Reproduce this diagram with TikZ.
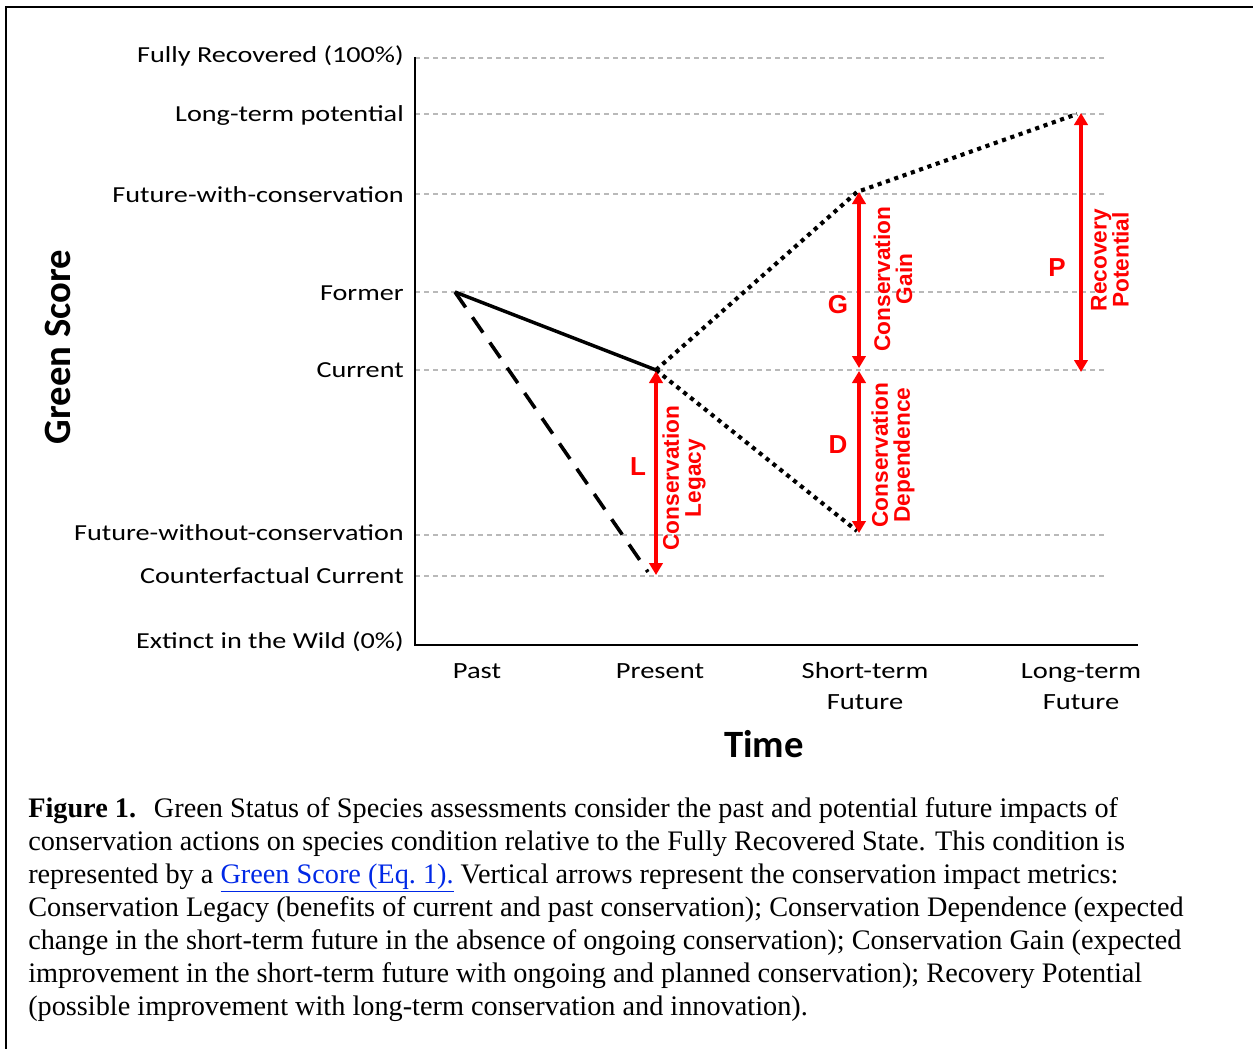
\documentclass[tikz,border=0pt]{standalone}
\usepackage{fontspec}
\usepackage{tikz}
\usetikzlibrary{positioning,arrows.meta,calc}
\newfontfamily\lblfont[FakeStretch=1.23]{Carlito}
\newfontfamily\ttlfont{Carlito}
\newfontfamily\redfont{Liberation Sans}
\newfontfamily\capfont{Liberation Serif}
\definecolor{myred}{RGB}{255,0,0}
\definecolor{mygrey}{RGB}{185,185,185}
\definecolor{mylink}{RGB}{0,40,230}

\begin{document}
\begin{tikzpicture}[x=0.75pt,y=-0.75pt,
  lvl/.style={font=\lblfont\fontsize{17.2}{20}\selectfont,inner sep=0pt,anchor=base east},
  tlbl/.style={font=\lblfont\fontsize{17.4}{20}\selectfont,inner sep=0pt,anchor=base},
  axtitle/.style={font=\ttlfont\bfseries\fontsize{29}{30}\selectfont,inner sep=0pt},
  grid/.style={mygrey,line width=1.1pt,dash pattern=on 3.75pt off 3pt},
  trend/.style={line width=2.6pt},
  nocons/.style={line width=2.7pt,dash pattern=on 14pt off 9pt},
  outlook/.style={line width=3.1pt,dash pattern=on 3.1pt off 3.5pt},
  metric/.style={myred,line width=2.7pt,{Triangle[length=9pt,width=10pt]}-{Triangle[length=9pt,width=10pt]}},
  mletter/.style={myred,font=\redfont\bfseries\fontsize{19.5}{19.5}\selectfont,inner sep=0pt},
  mlbl/.style={myred,font=\redfont\bfseries\fontsize{17}{16.5}\selectfont,rotate=90,align=center,inner sep=0pt},
  caption/.style={font=\capfont\fontsize{21.2}{24.75}\selectfont,align=left,inner sep=0pt,anchor=north west}
]
\useasboundingbox (0,0) rectangle (1253,1049);
% frame
\draw[line width=1.9pt] (6,1049) -- (6,7) -- (1253,7);

% the score levels
\draw[grid] (415,58) -- (1108,58);
\draw[grid] (415,114) -- (1108,114);
\draw[grid] (415,194) -- (1108,194);
\draw[grid] (415,292) -- (1108,292);
\draw[grid] (415,370) -- (1108,370);
\draw[grid] (415,535) -- (1108,535);
\draw[grid] (415,576) -- (1108,576);

\node[lvl] (lfull) at (404,63) {Fully Recovered (100\%)};
\node[lvl] (llong) at (404,122) {Long-term potential};
\node[lvl] (lwith) at (404,202) {Future-with-conservation};
\node[lvl] (lformer) at (404,300) {Former};
\node[lvl] (lcurrent) at (404,377) {Current};
\node[lvl] (lwithout) at (404,540) {Future-without-conservation};
\node[lvl] (lcounter) at (404,583) {Counterfactual Current};
\node[lvl] (lextinct) at (404,648) {Extinct in the Wild (0\%)};

% the axes
\draw[line width=1.8pt] (415,57) -- (415,645) -- (1138,645);
\node[axtitle,rotate=90] (ytitle) at (58,347) {Green Score};
\node[axtitle,anchor=base] (xtitle) at (764,757) {Time};

% the time steps
\node[tlbl] (tpast) at (477,678) {Past};
\node[tlbl] (tpresent) at (660,678) {Present};
\node[tlbl] (tshort) at (865,678) {Short-term};
\node[tlbl,below=23.25pt of tshort.base,anchor=base] (tshortf) {Future};
\node[tlbl] (tlong) at (1081,678) {Long-term};
\node[tlbl,below=23.25pt of tlong.base,anchor=base] (tlongf) {Future};

% the trajectories
\coordinate (former) at (455,292);
\coordinate (current) at (656,370);
\coordinate (cfcurrent) at (648,572);
\coordinate (withcons) at (857,192);
\coordinate (withoutcons) at (857,531);
\coordinate (longpot) at (1077,114);

\draw[trend] (former) -- (current);
\draw[nocons] (former) -- (cfcurrent);
\draw[outlook] (current) -- (withcons) -- (longpot);
\draw[outlook] (current) -- (withoutcons);

% the metrics
\coordinate (Ltop) at (656,371);
\coordinate (Lbot) at (656,575);
\coordinate (Gtop) at (859,192);
\coordinate (Gbot) at (859,368);
\coordinate (Dtop) at (859,371);
\coordinate (Dbot) at (859,533);
\coordinate (Ptop) at (1081,113);
\coordinate (Pbot) at (1081,372);

\draw[metric] (Ltop) -- (Lbot);
\draw[metric] (Gtop) -- (Gbot);
\draw[metric] (Dtop) -- (Dbot);
\draw[metric] (Ptop) -- (Pbot);

\node[mletter] (mL) at (638,467) {L};
\node[mletter] (mG) at (838,305) {G};
\node[mletter] (mD) at (838,445) {D};
\node[mletter] (mP) at (1057,268) {P};

\node[mlbl] (legacy) at (684,478) {Conservation\\Legacy};
\node[mlbl] (gain) at (893,279) {Conservation\\Gain};
\node[mlbl] (dependence) at (893,455) {Conservation\\Dependence};
\node[mlbl] (recovery) at (1110,260) {Recovery\\Potential};

% the caption
\node[caption] (cap) at (28,797) {\textbf{Figure 1.}\hspace{0.3em} Green Status of Species assessments consider the past and potential future impacts of\\
conservation actions on species condition relative to the Fully Recovered State. This condition is\\
represented by a {\color{mylink}\underline{Green Score (Eq.~1).}} Vertical arrows represent the conservation impact metrics:\\
Conservation Legacy (benefits of current and past conservation); Conservation Dependence (expected\\
change in the short-term future in the absence of ongoing conservation); Conservation Gain (expected\\
improvement in the short-term future with ongoing and planned conservation); Recovery Potential\\
(possible improvement with long-term conservation and innovation).};
\end{tikzpicture}
\end{document}
